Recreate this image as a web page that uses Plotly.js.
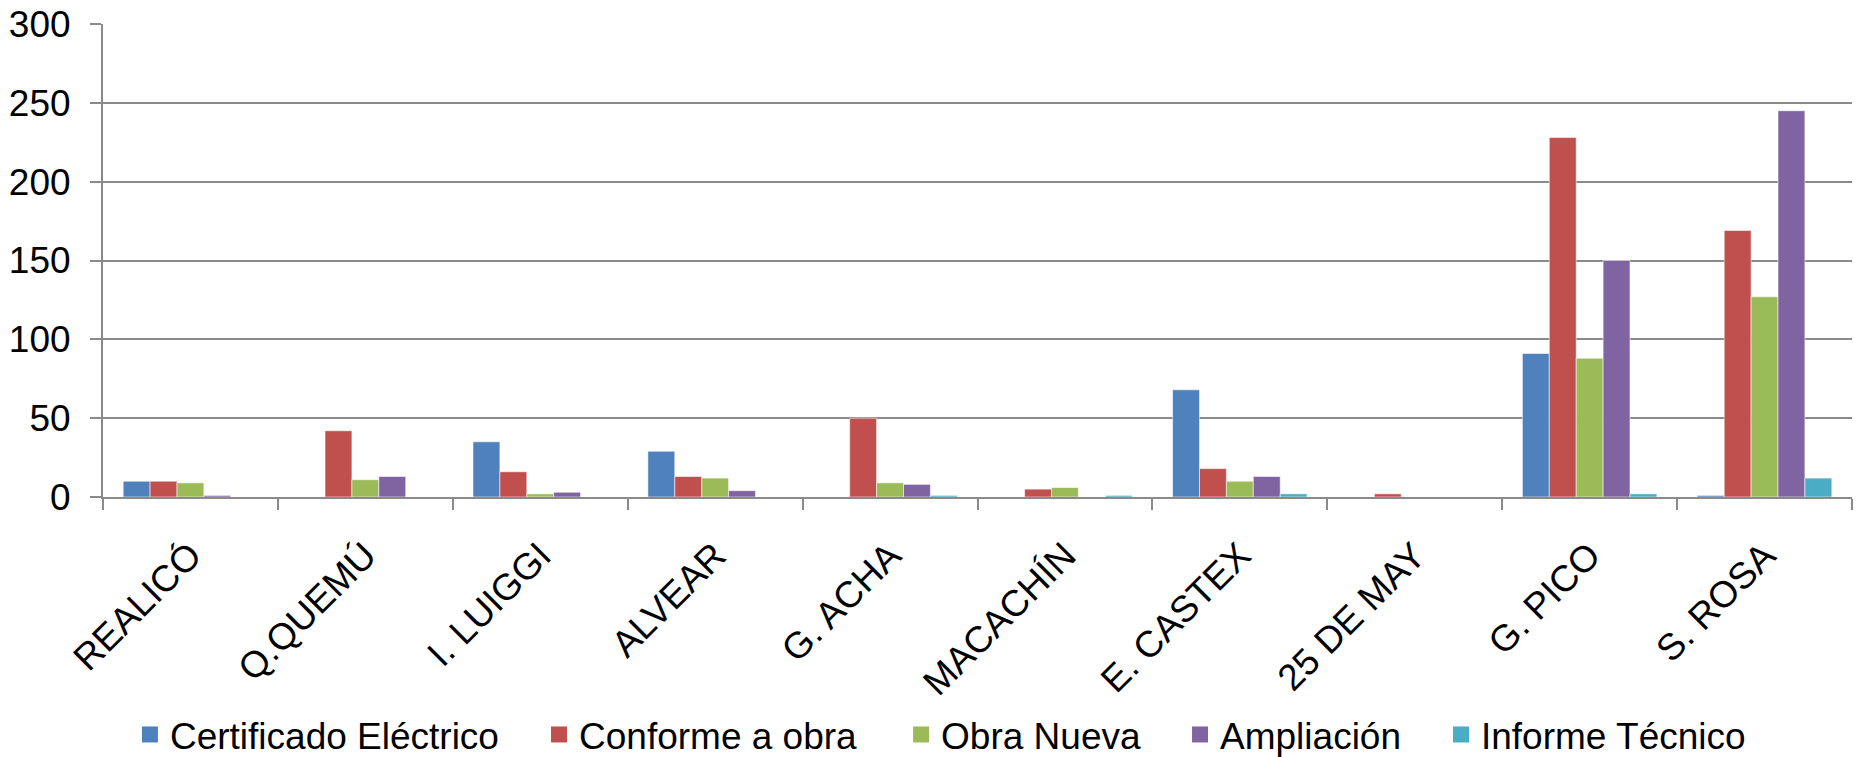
<!DOCTYPE html>
<html>
<head>
<meta charset="utf-8">
<script src="https://cdn.plot.ly/plotly-3.0.1.min.js"></script>
<style>html,body{margin:0;padding:0;background:#fff;}#chart{width:1860px;height:757px;}</style>
</head>
<body>
<div id="chart"></div>
<script>
const categories = ["REALICÓ", "Q.QUEMÚ", "I. LUIGGI", "ALVEAR", "G. ACHA", "MACACHÍN", "E. CASTEX", "25 DE MAY", "G. PICO", "S. ROSA"];
const certificadoElectrico = [10, 0, 35, 29, 0, 0, 68, 0, 91, 1];
const conformeAObra = [10, 42, 16, 13, 50, 5, 18, 2, 228, 169];
const obraNueva = [9, 11, 2, 12, 9, 6, 10, 0, 88, 127];
const ampliacion = [1, 13, 3, 4, 8, 0, 13, 0, 150, 245];
const informeTecnico = [0, 0, 0, 0, 1, 1, 2, 0, 2, 12];
const seriesNames = ["Certificado Eléctrico", "Conforme a obra", "Obra Nueva", "Ampliación", "Informe Técnico"];
const seriesColors = ["#4F81BD", "#C0504D", "#9BBB59", "#8064A2", "#4BACC6"];
const seriesValues = [certificadoElectrico, conformeAObra, obraNueva, ampliacion, informeTecnico];
const yTicks = [0, 50, 100, 150, 200, 250, 300];

const legendIds = ["legend", "legend2", "legend3", "legend4", "legend5"];
const legendX = [0.0154, 0.2493, 0.4563, 0.6158, 0.7650];

const barTraces = seriesValues.map((vals, i) => ({
  type: "bar",
  name: seriesNames[i],
  x: categories,
  y: vals,
  showlegend: false,
  legendgroup: "g" + i,
  marker: { color: seriesColors[i], line: { width: 1, color: "rgba(255,255,255,0.55)" } },
  hoverinfo: "x+y+name"
}));
// legend-only entries (square keys), no data drawn
const legendTraces = seriesNames.map((nm, i) => ({
  type: "scatter",
  mode: "markers",
  name: nm,
  x: [null],
  y: [null],
  legend: legendIds[i],
  legendgroup: "g" + i,
  marker: { symbol: "square", size: 16, color: seriesColors[i] },
  hoverinfo: "skip"
}));

const gridColor = "#8a8a8a";
const layout = {
  width: 1860,
  height: 757,
  margin: { l: 103, r: 8, t: 24, b: 260, autoexpand: false },
  paper_bgcolor: "#fff",
  plot_bgcolor: "#fff",
  font: { family: "Liberation Sans, Arial, sans-serif", color: "#000", size: 37 },
  barmode: "group",
  bargap: 0.2308,
  bargroupgap: 0,
  showlegend: true,
  xaxis: {
    type: "category",
    automargin: false,
    tickangle: -45,
    tickson: "boundaries",
    ticks: "outside",
    ticklen: 11,
    tickwidth: 2,
    tickcolor: gridColor,
    showline: true,
    linecolor: gridColor,
    linewidth: 2,
    showgrid: false,
    ticklabelstandoff: 20,
    tickfont: { size: 37, color: "#000" }
  },
  yaxis: {
    range: [0, 300],
    automargin: false,
    tickvals: yTicks,
    ticks: "outside",
    ticklen: 11,
    tickwidth: 2,
    tickcolor: gridColor,
    showline: true,
    linecolor: gridColor,
    linewidth: 2,
    showgrid: true,
    gridcolor: gridColor,
    gridwidth: 2,
    zeroline: false,
    ticklabelstandoff: 12,
    tickfont: { size: 37, color: "#000" }
  }
};
legendIds.forEach((id, i) => {
  layout[id] = {
    orientation: "h",
    x: legendX[i], xanchor: "left",
    y: -0.503, yanchor: "middle",
    font: { size: 37, color: "#000" },
    bgcolor: "rgba(0,0,0,0)"
  };
});

Plotly.newPlot("chart", barTraces.concat(legendTraces), layout, { displayModeBar: false, staticPlot: true });
</script>
</body>
</html>
